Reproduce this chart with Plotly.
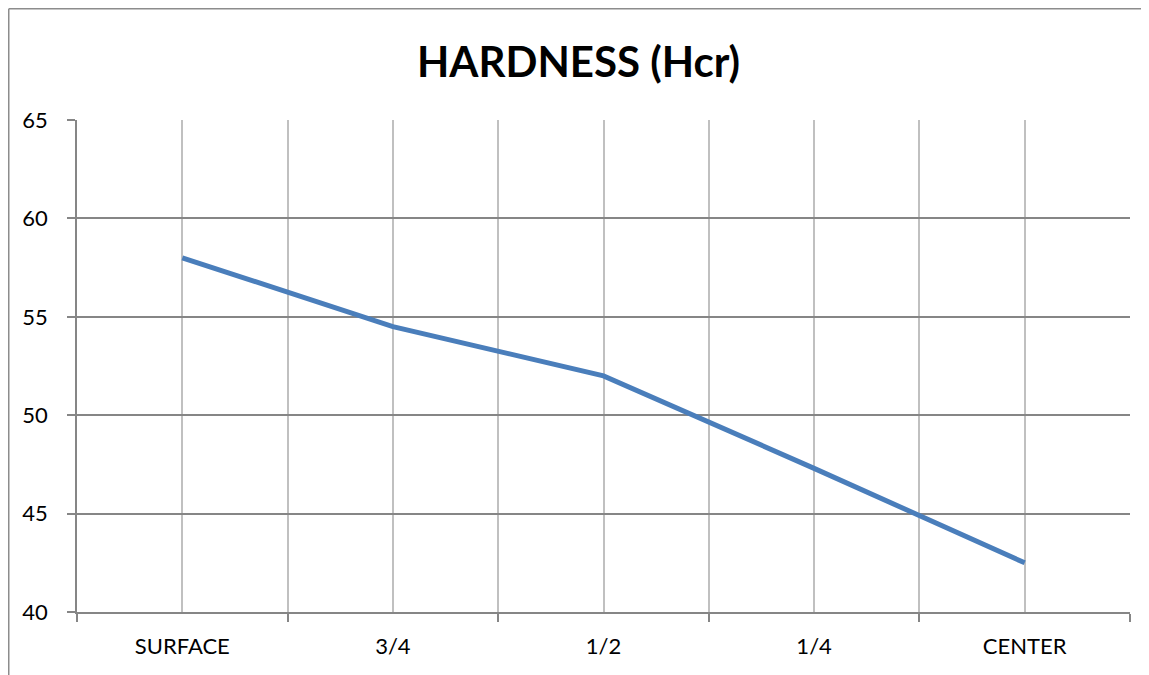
import plotly.graph_objects as go

categories = ["SURFACE", "3/4", "1/2", "1/4", "CENTER"]
hardness = [58, 54.5, 52, 47.3, 42.5]
y_ticks = [40, 45, 50, 55, 60, 65]

xpos = list(range(len(categories)))
boundaries = [i - 0.5 for i in range(len(categories) + 1)]

W, H = 1141, 667
L, R, T, B = 69, 19, 112, 63
pw, ph = W - L - R, H - T - B

fig = go.Figure()
fig.add_trace(go.Scatter(
    x=xpos, y=hardness, mode="lines",
    line=dict(color="#4a7ebb", width=5),
    showlegend=False,
))

font = "Lato, 'Open Sans', sans-serif"

fig.update_layout(
    width=W, height=H,
    margin=dict(l=L, r=R, t=T, b=B),
    paper_bgcolor="white", plot_bgcolor="white",
    title=dict(text="<b>HARDNESS (Hcr)</b>", x=0.5, xanchor="center",
               y=1 - 54 / H, yanchor="middle",
               font=dict(family=font, size=42, color="black")),
    font=dict(family=font, size=22, color="black"),
    xaxis=dict(
        range=[-0.5, len(categories) - 0.5],
        tickvals=xpos, ticktext=categories,
        ticks="", showgrid=True, gridcolor="#c0c0c0", gridwidth=1.5,
        showline=True, linecolor="#868686", linewidth=1.5,
        zeroline=False, ticklabelstandoff=14,
        minor=dict(tickvals=boundaries, ticks="outside", ticklen=8,
                   tickcolor="#868686", tickwidth=1.5,
                   showgrid=True, gridcolor="#c0c0c0", gridwidth=1.5),
    ),
    yaxis=dict(
        range=[40, 65], tickvals=y_ticks,
        ticks="outside", ticklen=8, tickcolor="#868686", tickwidth=1.5,
        showgrid=True, gridcolor="#868686", gridwidth=1.5,
        showline=True, linecolor="#868686", linewidth=1.5,
        zeroline=False, ticklabelstandoff=15,
    ),
    shapes=[
        dict(type="line", xref="paper", yref="paper",
             x0=(0.75 - L) / pw, x1=1.1, y0=(ph + T - 0.75) / ph, y1=(ph + T - 0.75) / ph,
             line=dict(color="#8c8c8c", width=1.5)),
        dict(type="line", xref="paper", yref="paper",
             x0=(0.75 - L) / pw, x1=(0.75 - L) / pw, y0=(ph + T - 0.75) / ph, y1=-0.2,
             line=dict(color="#8c8c8c", width=1.5)),
    ],
)

fig.write_html("out.html")
